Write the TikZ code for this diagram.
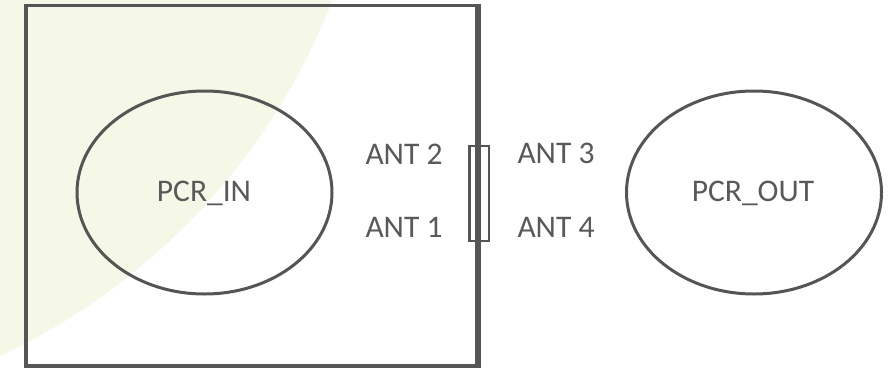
\documentclass[tikz,border=0pt]{standalone}
\usepackage{fontspec}
\setmainfont{Carlito}
\usetikzlibrary{shapes.geometric}
\definecolor{linegray}{RGB}{85,85,85}
\definecolor{textgray}{RGB}{89,89,89}
\definecolor{bgleaf}{RGB}{245,248,230}
\tikzset{
  lbl/.style={text=textgray, font=\fontsize{31.5}{38}\selectfont, inner sep=0pt, anchor=base},
  oval/.style={ellipse, draw=linegray, line width=3pt, inner sep=0pt, minimum width=255pt, minimum height=203pt},
  framebox/.style={draw=linegray, line width=3.5pt, inner sep=0pt},
  antbox/.style={draw=linegray, line width=2.5pt, inner sep=0pt, minimum width=19.5pt, minimum height=95pt}
}
\begin{document}
\begin{tikzpicture}[x=1pt,y=-1pt]
\useasboundingbox (0,0) rectangle (891,369);
\fill[white] (0,0) rectangle (891,369);
\begin{scope}
\clip (0,0) rectangle (891,369);
\fill[bgleaf] (-276,-235) circle (652);
\end{scope}
\node[framebox, minimum width=451pt, minimum height=360.5pt] (box) at (251.5,185.75) {};
\node[antbox] (sw) at (479,193.5) {};
\draw[linegray, line width=3.5pt] (box.north east) -- (box.south east);
\node[oval] (pin) at (204.5,192.5) {};
\node[oval] (pout) at (754,192.5) {};
\node[lbl] (tin) at (204,201.5) {PCR\_IN};
\node[lbl] (tout) at (753,201.5) {PCR\_OUT};
\node[lbl] (a2) at (404,164) {ANT 2};
\node[lbl] (a1) at (404,237) {ANT 1};
\node[lbl] (a3) at (556,163.5) {ANT 3};
\node[lbl] (a4) at (556,237) {ANT 4};
\end{tikzpicture}
\end{document}
